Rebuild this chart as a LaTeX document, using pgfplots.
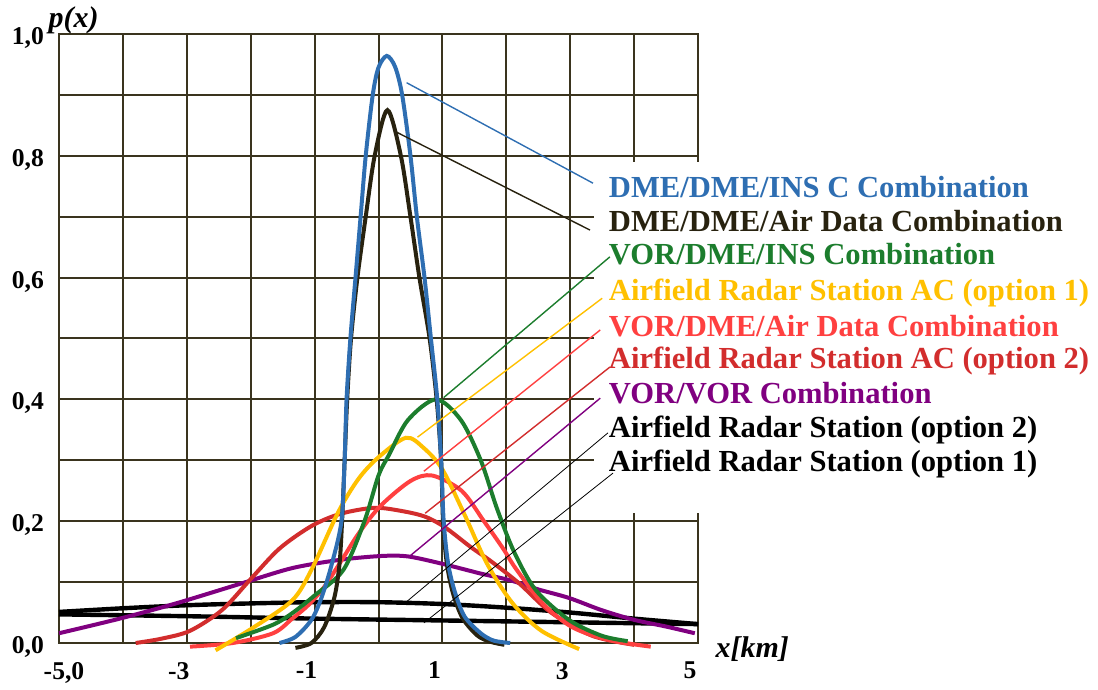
\documentclass[border=0pt]{standalone}
\usepackage{fontspec}
\setmainfont{Liberation Serif}
\usepackage{pgfplots}
\pgfplotsset{compat=1.18}
\definecolor{gridc}{RGB}{58,52,30}
\definecolor{cblue}{RGB}{46,110,178}
\definecolor{cdark}{RGB}{40,34,15}
\definecolor{cgreen}{RGB}{28,125,45}
\definecolor{cyellow}{RGB}{255,192,0}
\definecolor{clred}{RGB}{255,64,64}
\definecolor{cdred}{RGB}{210,45,45}
\definecolor{cpurple}{RGB}{128,0,128}
\begin{document}
\begin{tikzpicture}
\begin{axis}[name=ax, set layers, scale only axis, width=319.5pt, height=304.5pt,
  xmin=-5, xmax=5, ymin=0, ymax=1, clip=false,
  xtick={-5,-4,-3,-2,-1,0,1,2,3,4,5},
  xticklabels={{\makebox[0pt]{\hspace*{13pt}-5,0}},,-3,,-1,,1,,3,,5},
  ytick={0,0.1,0.2,0.3,0.4,0.5,0.6,0.7,0.8,0.9,1},
  yticklabels={{0,0},,{0,2},,{0,4},,{0,6},,{0,8},,{1,0}},
  grid=major, major grid style={draw=gridc, line width=1pt},
  axis line style={draw=gridc, line width=1pt},
  major tick length=0pt,
  tick label style={font=\bfseries\fontsize{12.8}{15}\selectfont, text=black},
  xticklabel style={xshift=-4pt, yshift=-6pt},
  yticklabel style={xshift=-4pt, yshift=-2pt},
  every axis plot/.append style={smooth, tension=0.5, line width=2pt},
]
\fill[white] (axis cs:3.38,0.213) rectangle (axis cs:5.3,0.79);
% Airfield Radar Station (option 2)
\addplot[black, line width=2.2pt] coordinates {(-5,0.051) (-4,0.057) (-3,0.062) (-2,0.065) (-1,0.067) (0,0.067) (1,0.064) (2,0.058) (3,0.05) (4,0.04) (5,0.031)};
% Airfield Radar Station (option 1)
\addplot[black, line width=2.2pt] coordinates {(-5,0.047) (-3,0.044) (-1,0.040) (1,0.037) (3,0.034) (5,0.031)};
% VOR/VOR
\addplot[cpurple] coordinates {(-5,0.016) (-4.05,0.04) (-3.17,0.065) (-2.17,0.097) (-1.35,0.123) (-0.57,0.137) (0.07,0.143) (0.47,0.142) (1.0,0.13) (1.6,0.114) (2.06,0.103) (2.5,0.088) (2.98,0.074) (3.49,0.054) (4.0,0.038) (4.5,0.027) (4.95,0.016)};
% Airfield Radar Station AC (option 2)
\addplot[cdred] coordinates {(-3.8,0.0) (-3.4,0.007) (-2.95,0.02) (-2.45,0.054) (-2.0,0.105) (-1.55,0.155) (-1.05,0.192) (-0.6,0.212) (-0.06,0.222) (0.4,0.216) (0.74,0.207) (1.04,0.19) (1.45,0.157) (1.75,0.135) (2.2,0.098) (2.7,0.05) (3.34,0.012) (4.0,-0.003)};
% VOR/DME/Air Data
\addplot[clred] coordinates {(-2.95,-0.006) (-2.28,0.0) (-1.65,0.016) (-1.35,0.04) (-1.1,0.062) (-0.85,0.092) (-0.57,0.137) (-0.31,0.18) (0.03,0.225) (0.5,0.266) (0.84,0.275) (1.3,0.25) (1.65,0.2) (1.95,0.155) (2.15,0.122) (2.57,0.065) (3.03,0.026) (3.6,0.005) (4.26,-0.006)};
% Airfield Radar Station AC (option 1)
\addplot[cyellow] coordinates {(-2.55,-0.012) (-1.95,0.026) (-1.35,0.07) (-1.05,0.12) (-0.63,0.215) (-0.31,0.27) (0.0,0.305) (0.43,0.337) (0.71,0.32) (1.0,0.285) (1.35,0.21) (1.7,0.13) (2.1,0.065) (2.55,0.02) (3.14,-0.01)};
% VOR/DME/INS
\addplot[cgreen] coordinates {(-2.23,0.008) (-1.65,0.03) (-1.35,0.049) (-1.0,0.078) (-0.55,0.12) (-0.22,0.2) (0.0,0.275) (0.17,0.31) (0.46,0.366) (0.9,0.40) (1.29,0.366) (1.6,0.3) (1.85,0.222) (2.12,0.15) (2.46,0.087) (2.98,0.038) (3.49,0.012) (3.9,0.003)};
% DME/DME/Air Data
\addplot[cdark] coordinates {(-1.3,-0.008) (-1.05,0.0) (-0.85,0.026) (-0.69,0.075) (-0.61,0.13) (-0.57,0.2) (-0.53,0.3) (-0.49,0.4) (-0.43,0.5) (-0.33,0.6) (-0.2,0.7) (-0.06,0.8) (0.14,0.875) (0.35,0.8) (0.5,0.7) (0.64,0.6) (0.8,0.5) (0.91,0.4) (0.98,0.3) (1.01,0.2) (1.07,0.13) (1.17,0.08) (1.32,0.04) (1.55,0.012) (1.75,0.002) (1.97,-0.003)};
% DME/DME/INS C
\addplot[cblue] coordinates {(-1.55,0.0) (-1.3,0.01) (-1.05,0.038) (-0.89,0.075) (-0.73,0.13) (-0.58,0.2) (-0.53,0.3) (-0.5,0.4) (-0.44,0.5) (-0.36,0.6) (-0.28,0.7) (-0.2,0.8) (-0.09,0.9) (0.0,0.945) (0.13,0.964) (0.26,0.946) (0.37,0.9) (0.5,0.8) (0.6,0.7) (0.72,0.6) (0.82,0.5) (0.92,0.4) (0.98,0.3) (1.02,0.2) (1.09,0.13) (1.2,0.082) (1.35,0.043) (1.6,0.016) (1.8,0.004) (2.06,0.0)};
% leader lines
\addplot[cblue, sharp plot, line width=0.7pt] coordinates {(0.44,0.92) (3.357,0.755)};
\addplot[cdark, sharp plot, line width=0.7pt] coordinates {(0.26,0.84) (3.31,0.678)};
\addplot[cgreen, sharp plot, line width=0.7pt] coordinates {(1.02,0.403) (3.62,0.634)};
\addplot[cyellow, sharp plot, line width=0.7pt] coordinates {(0.61,0.338) (3.50,0.566)};
\addplot[clred, sharp plot, line width=0.7pt] coordinates {(0.71,0.282) (3.47,0.514)};
\addplot[cdred, sharp plot, line width=0.7pt] coordinates {(0.73,0.213) (3.62,0.453)};
\addplot[cpurple, sharp plot, line width=0.7pt] coordinates {(0.47,0.141) (3.47,0.402)};
\addplot[black, sharp plot, line width=0.4pt] coordinates {(0.43,0.067) (3.59,0.345)};
\addplot[black, sharp plot, line width=0.4pt] coordinates {(0.71,0.033) (3.67,0.279)};
% labels
\tikzset{lab/.style={anchor=base west, inner sep=0pt, font=\bfseries\fontsize{15.3}{18}\selectfont}}
\node[lab, text=cblue] at (axis cs:3.6,0.731) {DME/DME/INS C Combination};
\node[lab, text=cdark] at (axis cs:3.6,0.675) {DME/DME/Air Data Combination};
\node[lab, text=cgreen] at (axis cs:3.6,0.621) {VOR/DME/INS Combination};
\node[lab, text=cyellow] at (axis cs:3.6,0.563) {Airfield Radar Station AC (option 1)};
\node[lab, text=clred] at (axis cs:3.6,0.504) {VOR/DME/Air Data Combination};
\node[lab, text=cdred] at (axis cs:3.6,0.450) {Airfield Radar Station AC (option 2)};
\node[lab, text=cpurple] at (axis cs:3.6,0.394) {VOR/VOR Combination};
\node[lab, text=black] at (axis cs:3.6,0.338) {Airfield Radar Station (option 2)};
\node[lab, text=black] at (axis cs:3.6,0.282) {Airfield Radar Station (option 1)};
\node[anchor=base, inner sep=0pt, font=\bfseries\itshape\fontsize{15}{18}\selectfont] at (axis description cs:0.023,1.01) {p(x)};
\node[anchor=base west, inner sep=0pt, font=\bfseries\itshape\fontsize{15}{18}\selectfont] at (axis cs:5.27,-0.023) {x[km]};
\end{axis}
\path[use as bounding box] ([shift={(-29.5pt,-20pt)}]ax.south west) rectangle ([shift={(200pt,17pt)}]ax.north east);
\end{tikzpicture}
\end{document}
